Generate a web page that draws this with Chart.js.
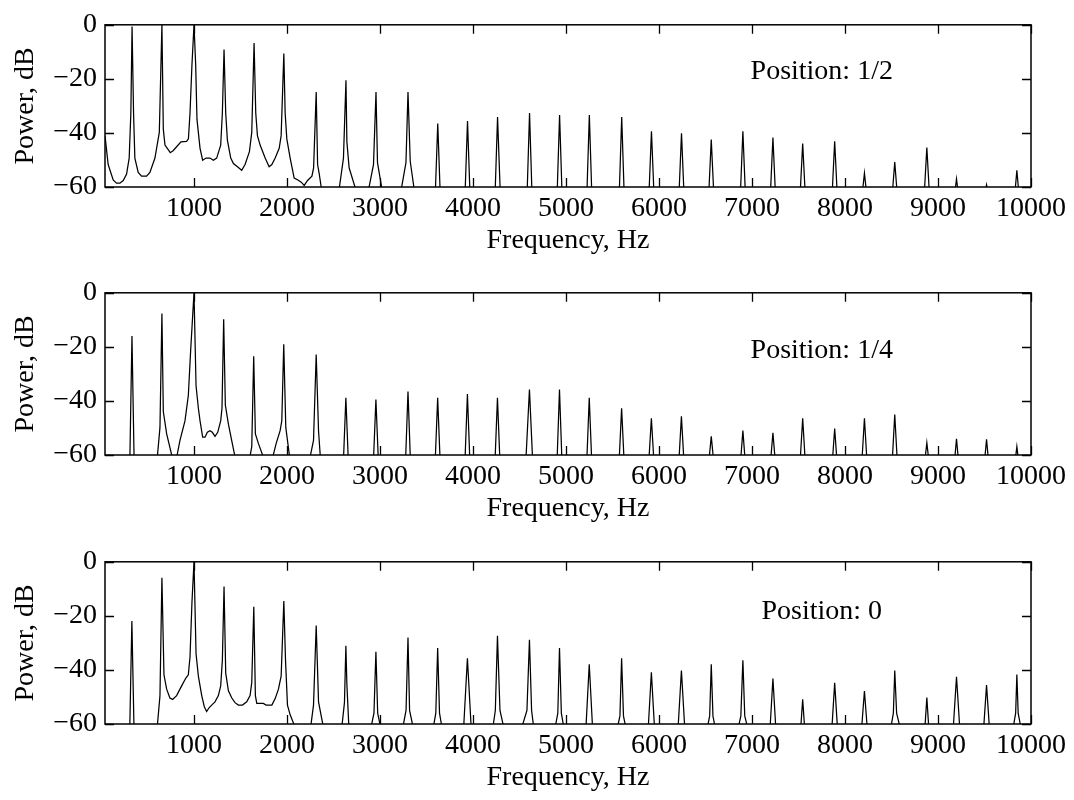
<!DOCTYPE html>
<html>
<head>
<meta charset="utf-8">
<script src="https://cdn.jsdelivr.net/npm/chart.js@4.4.1/dist/chart.umd.min.js"></script>
<style>
  html, body { margin: 0; padding: 0; background: #fff; }
  body { width: 1074px; height: 800px; overflow: hidden; position: relative; }
  canvas { position: absolute; left: 0; }
</style>
</head>
<body>
<canvas id="panelHalf" width="1074" height="268" style="top:0px"></canvas>
<canvas id="panelQuarter" width="1074" height="268" style="top:268px"></canvas>
<canvas id="panelZero" width="1074" height="268" style="top:537px"></canvas>
<script>
// spectrum vertices (Hz, dB); values below -60 leave the axes
const freqHalf = [43, 77, 131, 167, 203, 239, 275, 303, 321, 334, 350, 364, 400, 436, 490, 526, 580, 627, 655,
  670, 688, 745, 775, 813, 860, 920, 940, 957, 978, 1000, 1018, 1032, 1065, 1093, 1129, 1172, 1208, 1244, 1287,
  1305, 1323, 1341, 1359, 1395, 1424, 1467, 1513, 1549, 1596, 1621, 1646, 1664, 1682, 1711, 1765, 1808, 1837,
  1873, 1916, 1937, 1966, 1980, 1998, 2034, 2077, 2117, 2153, 2185, 2221, 2268, 2286, 2314, 2329, 2347, 2380,
  2560, 2607, 2634, 2644, 2668, 2740,
  2877, 2930, 2957, 2973, 3022,
  3228, 3279, 3301, 3325, 3368,
  3596, 3621, 3646, 3916, 3941, 3966, 4239, 4264, 4292, 4583, 4608, 4633, 4906, 4931, 4956,
  5226, 5251, 5276, 5574, 5599, 5624, 5894, 5919, 5944, 6217, 6242, 6267, 6537, 6562, 6587,
  6877, 6902, 6927, 7200, 7225, 7250, 7520, 7545, 7570, 7864, 7889, 7914, 8190, 8209, 8228,
  8512, 8535, 8558, 8855, 8880, 8905, 9185, 9199, 9213, 9512, 9522, 9532, 9830, 9848, 9866];
const powerHalf = [-41, -51.7, -57.4, -58.6, -58.6, -57.6, -55.2, -49.3, -32.6, -0.6, -32.6, -49.3, -54.6, -56, -56, -54.6, -49.3, -39.8, 0,
  -38.6, -44.5, -47.3, -46.6, -45.1, -43.3, -43.1, -42.2, -32.6, -14.8, 0, -14.8, -35, -45.7, -50.1, -49.3, -49.3, -50.1, -49.3, -44.5,
  -32.6, -9.1, -32.6, -42.7, -49.3, -51.3, -52.5, -53.8, -51.7, -46.9, -39.8, -6.7, -32.6, -41, -44.5, -49.3, -52.5, -51.7,
  -49.3, -45.7, -41, -10.6, -32.6, -42.2, -49.3, -56.7, -57.4, -58.2, -59.4, -57.6, -56, -52.9, -24.9, -51.7, -55.2, -63,
  -61, -49.3, -20.5, -43.3, -52.9, -61,
  -61, -51.7, -24.9, -51, -61,
  -61, -51, -24.9, -50.5, -61,
  -61, -36.5, -61, -61, -35.6, -61, -61, -34.1, -61, -61, -32.6, -61, -61, -33.4, -61,
  -61, -33.4, -61, -61, -34.1, -61, -61, -39.4, -61, -61, -40.1, -61, -61, -42.4, -61,
  -61, -39.4, -61, -61, -41.7, -61, -61, -43.9, -61, -61, -43.1, -61, -61, -54.9, -61,
  -61, -50.8, -61, -61, -45.4, -61, -61, -57, -61, -61, -59.2, -61, -61, -53.8, -61];

const freqQuarter = [310, 333, 356,
  605, 634, 655, 670, 706, 767,
  813, 849, 903, 939, 964, 1000, 1022, 1047, 1065, 1093, 1118, 1144, 1172, 1197, 1226, 1255, 1287, 1301, 1319,
  1337, 1370, 1405, 1443,
  1600, 1621, 1642, 1660, 1693, 1748,
  1845, 1883, 1926, 1944, 1965, 1987, 2029,
  2247, 2285, 2314, 2339, 2359,
  2608, 2633, 2658, 2931, 2956, 2981, 3276, 3301, 3326, 3595, 3620, 3645, 3915, 3940, 3965,
  4238, 4263, 4288, 4570, 4607, 4640, 4905, 4930, 4955, 5225, 5250, 5275, 5573, 5598, 5623,
  5893, 5918, 5943, 6216, 6241, 6266, 6540, 6562, 6584, 6880, 6902, 6924, 7203, 7225, 7247,
  7520, 7545, 7570, 7867, 7889, 7911, 8184, 8209, 8234, 8510, 8535, 8560, 8862, 8880, 8898,
  9181, 9199, 9217, 9504, 9522, 9540, 9834, 9848, 9862];
const powerQuarter = [-62, -16, -62,
  -61, -49.8, -7.7, -43.9, -52.2, -61,
  -61, -54.6, -47.4, -38, -21.4, 0, -34.4, -42.7, -47.4, -53.4, -53.4, -51.6, -51, -51.6, -53.1, -51.6, -47.4, -42.7, -9.8,
  -41.5, -48.6, -54.6, -61,
  -61, -56.9, -23.5, -52.2, -55.8, -61,
  -61, -55.8, -51, -47.4, -19, -49.8, -61,
  -61, -54.6, -22.8, -51, -61,
  -61, -38.8, -61, -61, -39.5, -61, -61, -36.5, -61, -61, -38.8, -61, -61, -37.4, -61,
  -61, -38.8, -61, -61, -35.8, -61, -61, -35.8, -61, -61, -38.8, -61, -61, -42.7, -61,
  -61, -46.4, -61, -61, -45.7, -61, -61, -53.1, -61, -61, -51, -61, -61, -51.8, -61,
  -61, -46.4, -61, -61, -50.2, -61, -61, -46.4, -61, -61, -45, -61, -61, -55.5, -61,
  -61, -54, -61, -61, -54.2, -61, -61, -56.9, -61];

const freqZero = [309, 332, 355,
  605, 634, 655, 677, 706, 741, 770, 813, 867, 914, 939, 957, 978, 1000, 1022, 1047, 1083, 1111, 1136, 1162,
  1190, 1226, 1262, 1287, 1305, 1323, 1341, 1370, 1405, 1441, 1477, 1521, 1567, 1603, 1621, 1643, 1660, 1675,
  1746, 1775, 1837, 1873, 1908, 1937, 1966, 1984, 2005, 2034, 2085,
  2255, 2285, 2314, 2339, 2390,
  2590, 2618, 2633, 2644, 2665,
  2905, 2935, 2956, 2975, 3005, 3247, 3280, 3301, 3318, 3355, 3575, 3600, 3620, 3640, 3665, 3900, 3940, 3980,
  4215, 4240, 4263, 4290, 4329, 4527, 4580, 4607, 4630, 4652, 4885, 4912, 4930, 4950, 4975, 5215, 5250, 5285,
  5555, 5580, 5598, 5618, 5641, 5885, 5918, 5951, 6206, 6241, 6276, 6522, 6545, 6562, 6580, 6602, 6855, 6880, 6902, 6922, 6950,
  7195, 7225, 7255, 7525, 7545, 7565, 7860, 7889, 7918, 8180, 8209, 8238, 8495, 8520, 8535, 8555, 8590,
  8860, 8880, 8900, 9165, 9199, 9233, 9492, 9522, 9552, 9810, 9835, 9848, 9862, 9890];
const powerZero = [-62, -21.9, -62,
  -61, -49.5, -5.9, -41.8, -47.1, -50.4, -50.9, -49.5, -45.9, -42.9, -41.8, -35.2, -15, 0, -34, -42.3, -49.5, -53.6, -55.4, -54,
  -53, -51.8, -49.5, -45.9, -36.4, -9.1, -41.2, -47.7, -50.3, -52.1, -53, -53, -51.8, -49.5, -44.7, -16.6, -49.5, -52.4,
  -52.4, -53, -53, -50.6, -47.1, -42.3, -14.5, -36.4, -53, -56.6, -61,
  -61, -53, -23.6, -51.8, -61,
  -61, -52, -31.1, -45.4, -61,
  -61, -56, -33.3, -56, -61, -61, -55, -28, -55, -61, -61, -56, -31.9, -56, -61, -61, -35.7, -61,
  -61, -55, -27.4, -55, -61, -61, -55, -28.8, -55, -61, -61, -56, -31.9, -56, -61, -61, -37.9, -61,
  -61, -57, -35.7, -57, -61, -61, -40.9, -61, -61, -40.2, -61, -61, -57, -37.9, -57, -61, -61, -57, -36.4, -57, -61,
  -61, -43.2, -61, -61, -50.9, -61, -61, -44.8, -61, -61, -47.8, -61, -61, -56, -40.2, -56, -61,
  -61, -50.2, -61, -61, -42.5, -61, -61, -45.6, -61, -61, -56, -41.7, -56, -61];

const xTickValues = [1000, 2000, 3000, 4000, 5000, 6000, 7000, 8000, 9000, 10000];
const yTickValues = [-60, -40, -20, 0];

const serif = '"Liberation Serif", "Times New Roman", serif';
const fontSize = 28;

// box around the axes with inward MATLAB-style ticks, plus the in-plot caption
const frameTicks = {
  id: 'frameTicks',
  afterDatasetsDraw(chart, args, opts) {
    const { ctx, chartArea: a, scales: { x, y } } = chart;
    const tl = 9;
    ctx.save();
    ctx.strokeStyle = '#000';
    ctx.lineWidth = 1.3;
    ctx.beginPath();
    x.ticks.forEach((t) => {
      const px = Math.round(x.getPixelForValue(t.value)) + 0.5;
      ctx.moveTo(px, a.bottom); ctx.lineTo(px, a.bottom - tl);
      ctx.moveTo(px, a.top); ctx.lineTo(px, a.top + tl);
    });
    y.ticks.forEach((t) => {
      const py = Math.round(y.getPixelForValue(t.value)) + 0.5;
      ctx.moveTo(a.left, py); ctx.lineTo(a.left + tl, py);
      ctx.moveTo(a.right, py); ctx.lineTo(a.right - tl, py);
    });
    ctx.stroke();
    ctx.lineWidth = 1.5;
    ctx.strokeRect(a.left, a.top, a.right - a.left, a.bottom - a.top);

    ctx.fillStyle = '#000';
    ctx.font = fontSize + 'px ' + serif;
    ctx.textAlign = 'center';
    ctx.textBaseline = 'middle';
    ctx.fillText(opts.text, x.getPixelForValue(opts.x), y.getPixelForValue(opts.y));
    ctx.restore();
  }
};

function minusLabel(v) {
  return v < 0 ? '\u2212' + Math.abs(v) : String(v);
}

function makePanel(id, freqs, powers, caption, capY) {
  const points = freqs.map((f, i) => ({ x: f, y: powers[i] }));
  return new Chart(document.getElementById(id), {
    type: 'line',
    data: {
      datasets: [{
        data: points,
        borderColor: '#000',
        borderWidth: 1.25,
        pointRadius: 0,
        tension: 0,
        fill: false
      }]
    },
    options: {
      responsive: false,
      animation: false,
      devicePixelRatio: 1,
      layout: { padding: { left: 0, right: 43, top: 18.5, bottom: 0 } },
      plugins: {
        legend: { display: false },
        tooltip: { enabled: false },
        frameTicks: { text: caption, x: 7750, y: capY }
      },
      scales: {
        x: {
          type: 'linear',
          min: 43,
          max: 10000,
          grid: { display: false, drawTicks: false },
          border: { display: false },
          afterBuildTicks: (s) => { s.ticks = xTickValues.map((v) => ({ value: v })); },
          ticks: {
            autoSkip: false,
            maxRotation: 0,
            padding: 5,
            color: '#000',
            font: { family: serif, size: fontSize },
            callback: (v) => String(v)
          },
          title: {
            display: true,
            text: 'Frequency, Hz',
            color: '#000',
            font: { family: serif, size: fontSize },
            padding: { top: 0, bottom: 10.7 }
          },
          afterFit: (s) => { s.height = 81; }
        },
        y: {
          min: -60,
          max: 0,
          grid: { display: false, drawTicks: false },
          border: { display: false },
          afterBuildTicks: (s) => { s.ticks = yTickValues.map((v) => ({ value: v })); },
          ticks: {
            padding: 8,
            color: '#000',
            font: { family: serif, size: fontSize },
            callback: minusLabel
          },
          title: {
            display: true,
            text: 'Power, dB',
            color: '#000',
            font: { family: serif, size: fontSize },
            padding: { top: 8.5, bottom: 0 }
          },
          afterFit: (s) => { s.width = 105; }
        }
      }
    },
    plugins: [frameTicks]
  });
}

makePanel('panelHalf', freqHalf, powerHalf, 'Position: 1/2', -17.4);
makePanel('panelQuarter', freqQuarter, powerQuarter, 'Position: 1/4', -21.3);
makePanel('panelZero', freqZero, powerZero, 'Position: 0', -18.6);
</script>
</body>
</html>
